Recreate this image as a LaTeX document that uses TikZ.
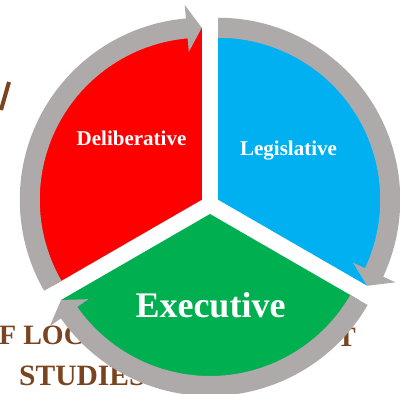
\documentclass[tikz,border=0pt]{standalone}
\usepackage{fontspec}
\setmainfont{Liberation Serif}
\definecolor{segred}{RGB}{255,0,0}
\definecolor{segblue}{RGB}{0,176,240}
\definecolor{seggreen}{RGB}{0,176,80}
\definecolor{ringgrey}{RGB}{174,170,170}
\definecolor{titlebrown}{RGB}{122,68,32}
\newcommand{\ringarrow}[3]{%
  \pgfmathsetmacro{\ringhb}{#3+5}%
  \fill[ringgrey] ([shift={(#1)}]#2:182) arc[start angle=#2,end angle=\ringhb,radius=182]
    -- ([shift={(#1)}]\ringhb:195.5) -- ([shift={(#1)}]#3:172)
    -- ([shift={(#1)}]\ringhb:148.5) -- ([shift={(#1)}]\ringhb:162)
    arc[start angle=\ringhb,end angle=#2,radius=162] -- cycle;}
\begin{document}
\begin{tikzpicture}[x=1pt,y=1pt,
  seglabel/.style={text=white,inner sep=0pt,font=\bfseries\fontsize{21}{25}\selectfont},
  bigtext/.style={text=titlebrown,inner sep=0pt,font=\bfseries\fontsize{28}{32}\selectfont}]
\useasboundingbox (0,0) rectangle (400,394);
\clip (0,0) rectangle (400,394);
% background title fragments
\node[bigtext,anchor=base west] (flocal) at (-1,49) {F LOC};
\node[bigtext,anchor=base east] (tletter) at (356,47) {T};
\node[bigtext,font=\bfseries\fontsize{29.5}{33}\selectfont,anchor=base west] (studies) at (19,8) {STUDIES};
\coordinate (slashtop) at (9,312);
\coordinate (slashbot) at (1,284);
\draw[titlebrown,line width=4] (slashtop) -- (slashbot);
% segment apexes
\coordinate (redc) at (201.77,194.25);
\coordinate (bluec) at (218.23,194.25);
\coordinate (greenc) at (210,180);
% segments
\fill[segred] (redc) -- ([shift={(redc)}]90:172) arc[start angle=90,end angle=210,radius=172] -- cycle;
\fill[segblue] (bluec) -- ([shift={(bluec)}]-30:172) arc[start angle=-30,end angle=90,radius=172] -- cycle;
\fill[seggreen] (greenc) -- ([shift={(greenc)}]210:172) arc[start angle=210,end angle=330,radius=172] -- cycle;
% circular arrows
\ringarrow{redc}{210}{90}
\ringarrow{bluec}{90}{-30}
\ringarrow{greenc}{-30}{-150}
% labels
\node[seglabel,anchor=base] (delib) at (131.5,248) {Deliberative};
\node[seglabel,anchor=base] (legis) at (288.5,238) {Legislative};
\node[seglabel,font=\bfseries\fontsize{36}{40}\selectfont,anchor=base] (exec) at (210.5,76) {Executive};
\end{tikzpicture}
\end{document}
